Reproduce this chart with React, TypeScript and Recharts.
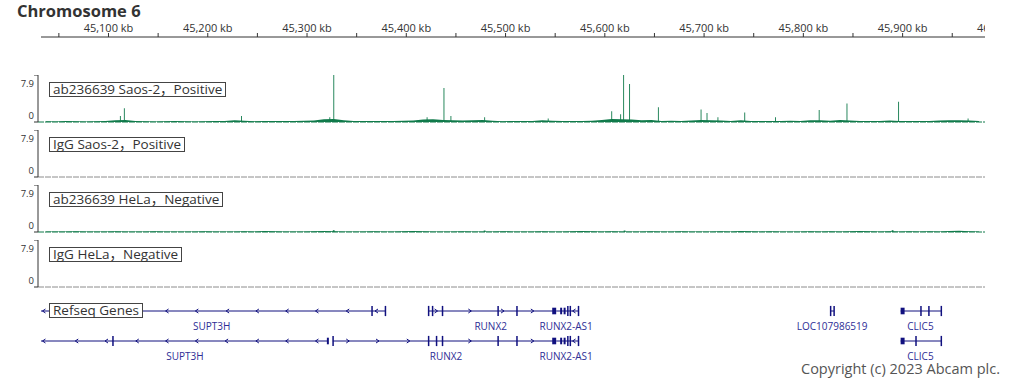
import { ComposedChart, Bar, Area, Line, Scatter, XAxis, YAxis, ReferenceLine, ReferenceArea } from 'recharts';

// view window in kb
const KB_START = 45032;
const KB_END = 45983;

const rulerTicks = [45050, 45100, 45150, 45200, 45250, 45300, 45350, 45400, 45450, 45500, 45550, 45600, 45650, 45700, 45750, 45800, 45850, 45900, 45950, 46000];
const rulerLabeled = [45100, 45200, 45300, 45400, 45500, 45600, 45700, 45800, 45900, 46000];
const rulerLabels = ['45,100 kb', '45,200 kb', '45,300 kb', '45,400 kb', '45,500 kb', '45,600 kb', '45,700 kb', '45,800 kb', '45,900 kb', '46,000 kb'];

const trackNames = ['ab236639 Saos-2，Positive', 'IgG Saos-2，Positive', 'ab236639 HeLa，Negative', 'IgG HeLa，Negative'];
const Y_MAX = 7.9;

// background signal in 10 kb bins starting at 45,037 kb
const NOISE_START = 45037;
const NOISE_STEP = 10;
const saosNoise = [
  0.12, 0.1, 0.15, 0.12, 0.1, 0.12, 0.18,
  0.3, 0.35, 0.18,
  0.12, 0.1, 0.12, 0.15, 0.12, 0.1, 0.12, 0.15, 0.18,
  0.3, 0.2,
  0.12, 0.15, 0.18, 0.15, 0.18, 0.2, 0.25,
  0.45, 0.5, 0.3,
  0.18, 0.15, 0.18, 0.15, 0.18, 0.2, 0.25,
  0.4, 0.45, 0.35, 0.3,
  0.25, 0.3, 0.35, 0.2,
  0.12, 0.18, 0.15, 0.18,
  0.3, 0.2,
  0.15, 0.18, 0.18, 0.2,
  0.35, 0.5, 0.45, 0.4, 0.3, 0.35,
  0.18, 0.2, 0.18, 0.25,
  0.35, 0.3, 0.25,
  0.18, 0.3, 0.18, 0.15,
  0.18, 0.15, 0.2, 0.18, 0.3, 0.3, 0.2,
  0.35, 0.25, 0.18, 0.15,
  0.18, 0.25, 0.18, 0.15, 0.18,
  0.18, 0.25, 0.28, 0.3, 0.25, 0.18,
];
const helaNoise = [
  0.08, 0.1, 0.08, 0.12, 0.1, 0.08, 0.1, 0.12, 0.1, 0.08, 0.1, 0.12,
  0.1, 0.08, 0.1, 0.1, 0.12, 0.1, 0.08, 0.1, 0.12, 0.1, 0.15, 0.12,
  0.1, 0.08, 0.1, 0.12, 0.15, 0.12, 0.1, 0.08, 0.1, 0.12, 0.1, 0.1,
  0.12, 0.15, 0.12, 0.1, 0.08, 0.1, 0.12, 0.1, 0.08, 0.1, 0.12, 0.1,
  0.1, 0.08, 0.12, 0.1, 0.1, 0.12, 0.15, 0.12, 0.1, 0.12, 0.1, 0.08,
  0.1, 0.12, 0.1, 0.1, 0.12, 0.1, 0.08, 0.1, 0.12, 0.1, 0.15, 0.12,
  0.1, 0.12, 0.1, 0.08, 0.1, 0.12, 0.1, 0.12, 0.1, 0.12, 0.15, 0.12,
  0.1, 0.12, 0.1, 0.12, 0.1, 0.12, 0.1, 0.15, 0.2, 0.12, 0.1,
];

// peaks: [kb, signal]
const saosPeaks: [number, number][] = [
  [45112, 1.0], [45116, 2.3], [45234, 1.0], [45323, 0.8], [45327, 7.9],
  [45421, 0.8], [45438, 5.7], [45445, 1.0], [45479, 0.8], [45543, 0.6],
  [45607, 1.8], [45616, 1.3], [45619, 7.9], [45625, 6.4], [45654, 2.5],
  [45697, 2.1], [45703, 1.5], [45714, 0.8], [45741, 1.6], [45772, 0.8],
  [45816, 2.0], [45844, 3.1], [45896, 3.4], [45966, 0.6],
];
const helaPeaks: [number, number][] = [[45327, 0.3], [45479, 0.25], [45620, 0.25], [45890, 0.3]];

const GREEN = '#107a4b';
const GREY = '#8c8c8c';
const NAVY = '#10107f';

type Gene = {
  name: string;
  row: number;
  start: number;
  end: number;
  strand: '+' | '-';
  exons: [number, number][];
  arrows: number[];
  labelAt: number;
};

const genes: Gene[] = [
  { name: 'SUPT3H', row: 0, start: 45032, end: 45379, strand: '-', exons: [[45365, 45366], [45378.5, 45379.5]], arrows: [45035, 45159, 45189, 45220, 45250, 45280, 45310, 45341, 45370], labelAt: 45204 },
  { name: 'RUNX2', row: 0, start: 45422, end: 45550, strand: '+', exons: [[45422, 45423], [45426, 45427], [45436, 45437], [45492, 45493], [45511, 45512], [45547, 45551]], arrows: [45430, 45464, 45497, 45527], labelAt: 45485 },
  { name: 'RUNX2-AS1', row: 0, start: 45551, end: 45573, strand: '-', exons: [[45555, 45557], [45558.5, 45560.5], [45562, 45563.5], [45564.5, 45566], [45573, 45574]], arrows: [45569], labelAt: 45561 },
  { name: 'LOC107986519', row: 0, start: 45827, end: 45831, strand: '-', exons: [[45827, 45828], [45830.5, 45831.5]], arrows: [], labelAt: 45829 },
  { name: 'CLIC5', row: 0, start: 45898, end: 45939, strand: '-', exons: [[45898, 45902], [45918, 45919], [45926, 45927], [45938.5, 45939.5]], arrows: [], labelAt: 45918 },
  { name: 'SUPT3H', row: 1, start: 45032, end: 45321, strand: '-', exons: [[45104, 45105], [45320, 45322]], arrows: [45035, 45068, 45098, 45129, 45159, 45189, 45219, 45250, 45280, 45310], labelAt: 45177 },
  { name: 'RUNX2', row: 1, start: 45326, end: 45550, strand: '+', exons: [[45325.5, 45327], [45422, 45423], [45430, 45431], [45436, 45437], [45492, 45493], [45511, 45512], [45547, 45551]], arrows: [45341, 45371, 45402, 45464, 45527], labelAt: 45440 },
  { name: 'RUNX2-AS1', row: 1, start: 45551, end: 45573, strand: '-', exons: [[45555, 45557], [45558.5, 45560.5], [45562, 45563.5], [45564.5, 45566], [45573, 45574]], arrows: [45569], labelAt: 45561 },
  { name: 'CLIC5', row: 1, start: 45898, end: 45939, strand: '-', exons: [[45898, 45902], [45913, 45914], [45938.5, 45939.5]], arrows: [], labelAt: 45918 },
];

const FONT = '"Open Sans", "Noto Sans CJK SC", sans-serif';

const boxStyle: React.CSSProperties = {
  position: 'absolute',
  left: 49,
  border: '1px solid #444',
  background: '#fff',
  padding: '0 3px',
  fontSize: 13.5,
  lineHeight: '13px',
  color: '#333',
  whiteSpace: 'nowrap',
};

const YTick = (props: any) => {
  const { y, payload } = props;
  const isTop = payload.value > 0;
  return (
    <text x={34} y={isTop ? y + 12 : y - 3} textAnchor="end" fontSize={9.5} fill="#333">
      {String(payload.value)}
    </text>
  );
};

interface TrackProps {
  top: number;
  name: string;
  color: string;
  noise: number[];
  peaks: [number, number][];
}

const SignalTrack = ({ top, name, color, noise, peaks }: TrackProps) => {
  const peakData = peaks.map(([kb, v]) => ({ kb, v }));
  const noiseData = noise.map((v, i) => ({ kb: NOISE_START + i * NOISE_STEP, v }));
  return (
    <div style={{ position: 'absolute', left: 0, top }}>
      <ComposedChart width={1020} height={55} data={peakData} margin={{ top: 0, right: 35, bottom: 8, left: 0 }}>
        <XAxis type="number" dataKey="kb" domain={[KB_START, KB_END]} allowDataOverflow hide padding={{ left: 3, right: 0 }} />
        <YAxis
          type="number"
          domain={[0, Y_MAX]}
          ticks={[0, Y_MAX]}
          interval={0}
          allowDataOverflow
          width={38}
          tickSize={4}
          axisLine={{ stroke: '#333' }}
          tickLine={{ stroke: '#333' }}
          tick={YTick}
        />
        <ReferenceLine y={0} stroke={color} strokeDasharray="6 1" strokeWidth={1} />
        {noise.length > 0 && (
          <Area data={noiseData} dataKey="v" type="linear" stroke="none" fill={color} fillOpacity={1} isAnimationActive={false} />
        )}
        <Bar dataKey="v" fill={color} barSize={2} isAnimationActive={false} />
      </ComposedChart>
      <div style={{ ...boxStyle, top: 7 }}>{name}</div>
    </div>
  );
};

const ROW_H = 0.17;
const BOX_H = 0.11;

// gene drawing: introns, exons as reference marks; strand arrows and names as scatter points
const arrowData = genes.flatMap((g) => g.arrows.map((kb) => ({ kb, row: g.row + 0.5, strand: g.strand })));
const nameData = genes.map((g) => ({ kb: g.labelAt, row: g.row + 0.5, name: g.name }));

const geneElements = genes.flatMap((g, gi) => {
  const yc = g.row + 0.5;
  const els: any[] = [];
  els.push(
    <ReferenceLine key={`l${gi}`} segment={[{ x: g.start, y: yc }, { x: g.end, y: yc }]} stroke={NAVY} strokeWidth={1} ifOverflow="visible" />
  );
  g.exons.forEach(([a, b], ei) => {
    if (b - a <= 1.5) {
      els.push(
        <ReferenceLine
          key={`e${gi}-${ei}`}
          segment={[{ x: (a + b) / 2, y: yc - ROW_H }, { x: (a + b) / 2, y: yc + ROW_H }]}
          stroke={NAVY}
          strokeWidth={1.5}
          ifOverflow="visible"
        />
      );
    } else {
      els.push(
        <ReferenceArea key={`e${gi}-${ei}`} x1={a} x2={b} y1={yc - BOX_H} y2={yc + BOX_H} fill={NAVY} fillOpacity={1} stroke="none" ifOverflow="visible" />
      );
    }
  });
  return els;
});

const ArrowShape = (p: any) => {
  const d = p.payload.strand === '-' ? 1 : -1;
  return (
    <path
      d={`M${p.cx + 1.5 * d},${p.cy - 2} L${p.cx - 1.5 * d},${p.cy} L${p.cx + 1.5 * d},${p.cy + 2}`}
      stroke={NAVY}
      strokeWidth={1}
      fill="none"
    />
  );
};

const NameShape = (p: any) => (
  <text x={p.cx} y={p.cy + 18.5} textAnchor="middle" fontSize={10} fill="#2e2e96">
    {p.payload.name}
  </text>
);

const rulerFormat = (v: number) => {
  const i = rulerLabeled.indexOf(v);
  return i >= 0 ? rulerLabels[i] : '';
};

const rulerData = rulerTicks.map((kb) => ({ kb, y: 0 }));

export default function App() {
  const trackTops = [75, 130, 185, 240];
  const trackColors = [GREEN, GREY, GREEN, GREY];
  const trackNoise = [saosNoise, [], helaNoise, []];
  const trackPeaks = [saosPeaks, [], helaPeaks, []];
  return (
    <div style={{ position: 'absolute', left: 0, top: 0, width: 1020, height: 378, background: '#fff', fontFamily: FONT, overflow: 'hidden' }}>
      <div style={{ position: 'absolute', left: 0, top: 0, width: 985, height: 45, overflow: 'hidden' }}>
        <ComposedChart width={1040} height={45} data={rulerData} margin={{ top: 0, right: 55, bottom: 0, left: 41 }}>
          <XAxis
            type="number"
            dataKey="kb"
            orientation="top"
            domain={[KB_START, KB_END]}
            allowDataOverflow
            ticks={rulerTicks}
            interval={0}
            height={37}
            tickSize={4}
            tickMargin={1}
            tickFormatter={rulerFormat}
            tick={{ fill: '#333', fontSize: 11 }}
            axisLine={{ stroke: '#333' }}
            tickLine={{ stroke: '#333' }}
          />
          <YAxis hide domain={[0, 1]} />
          <Line dataKey="y" stroke="none" dot={false} isAnimationActive={false} />
        </ComposedChart>
      </div>
      <div style={{ position: 'absolute', left: 17, top: 0, fontSize: 16.5, lineHeight: '22px', fontWeight: 700, color: '#333', whiteSpace: 'nowrap' }}>
        Chromosome 6
      </div>
      {trackNames.map((name, i) => (
        <SignalTrack key={name} top={trackTops[i]} name={name} color={trackColors[i]} noise={trackNoise[i]} peaks={trackPeaks[i]} />
      ))}
      <div style={{ position: 'absolute', left: 0, top: 296 }}>
        <ComposedChart width={1020} height={70} margin={{ top: 0, right: 35, bottom: 10, left: 41 }}>
          <XAxis type="number" dataKey="kb" domain={[KB_START, KB_END]} hide />
          <YAxis type="number" dataKey="row" domain={[0, 2]} reversed hide />
          {geneElements}
          <Scatter data={arrowData} dataKey="row" shape={ArrowShape} isAnimationActive={false} />
          <Scatter data={nameData} dataKey="row" shape={NameShape} isAnimationActive={false} />
        </ComposedChart>
        <div style={{ ...boxStyle, top: 7 }}>Refseq Genes</div>
      </div>
      <div style={{ position: 'absolute', right: 20, top: 359, fontSize: 14.5, lineHeight: '20px', color: '#555', whiteSpace: 'nowrap' }}>
        Copyright (c) 2023 Abcam plc.
      </div>
    </div>
  );
}
